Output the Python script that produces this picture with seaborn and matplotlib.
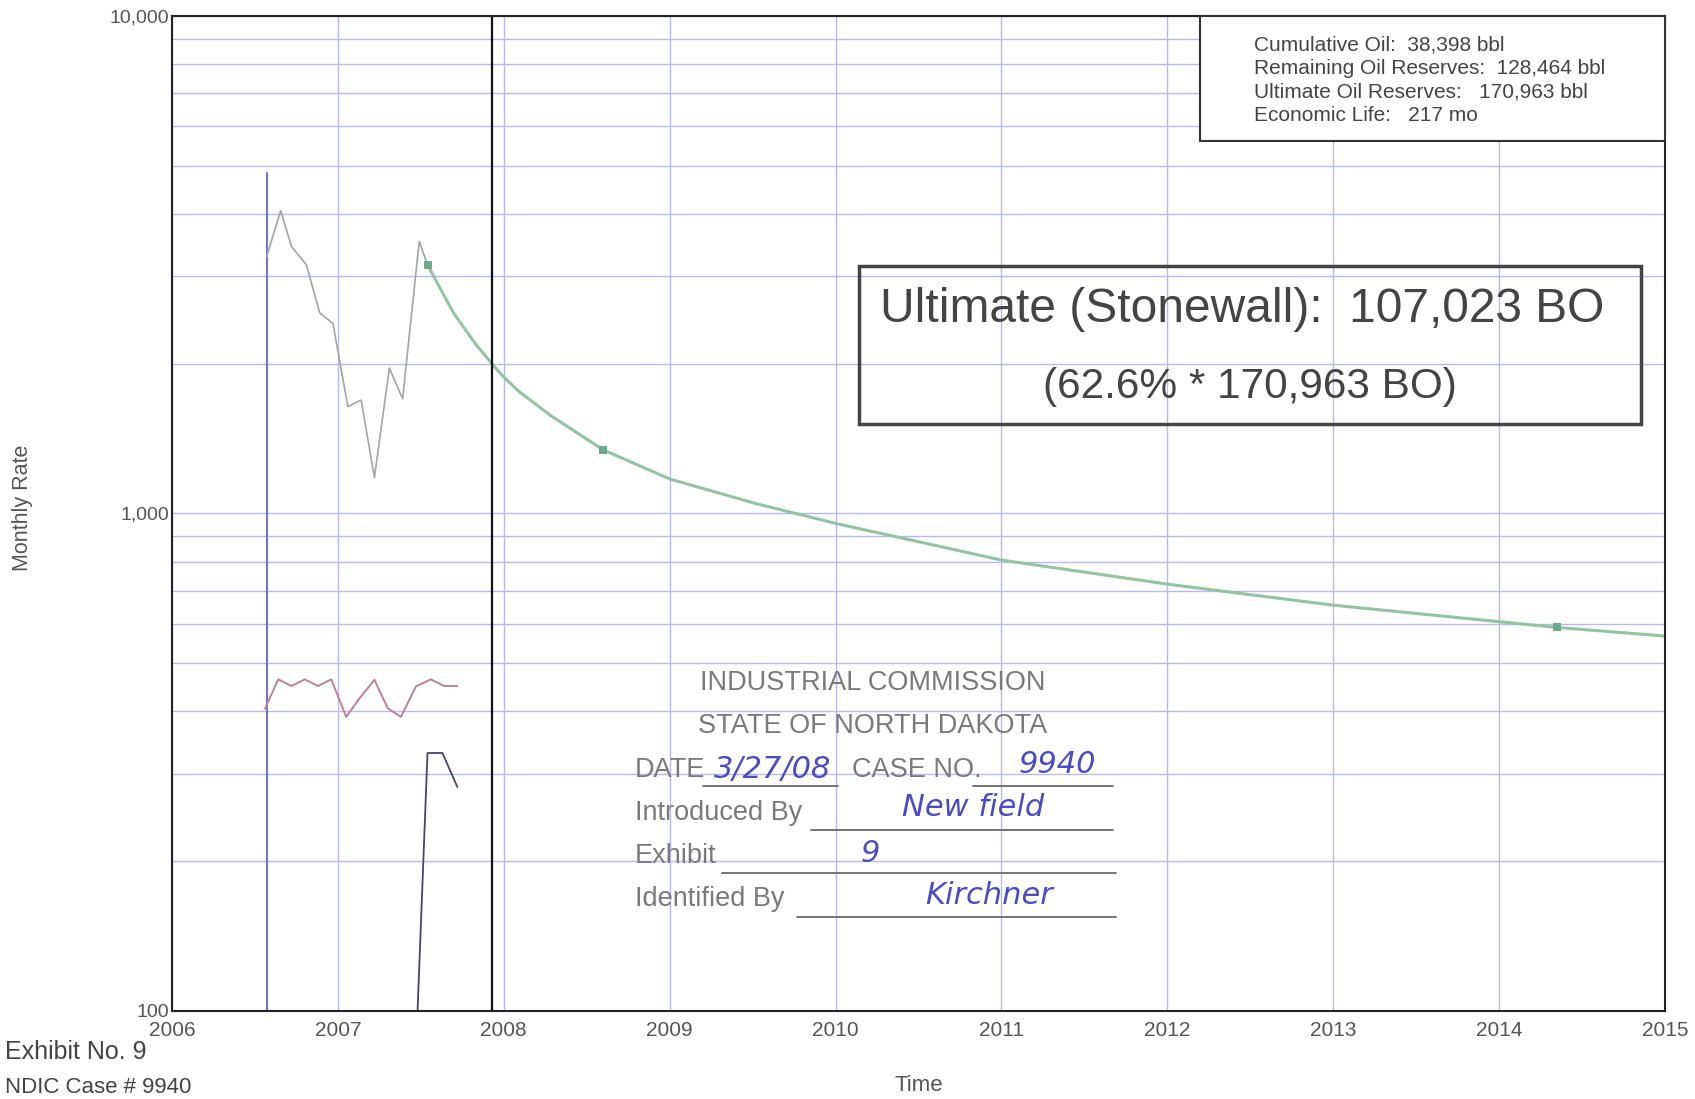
import matplotlib
matplotlib.use("Agg")
import matplotlib.pyplot as plt
import numpy as np
import pandas as pd
import seaborn as sns
from matplotlib.patches import Rectangle
from matplotlib.ticker import FixedLocator, LogLocator, NullFormatter

# values (decimal years, bbl / mcf per month)
oil_time = [2006.57, 2006.655, 2006.72, 2006.81, 2006.89, 2006.97, 2007.06,
            2007.14, 2007.22, 2007.31, 2007.39, 2007.49, 2007.54]
oil_rate = [3280, 4060, 3440, 3160, 2530, 2410, 1640, 1690, 1180, 1960, 1700, 3520, 3160]

gas_time = [2006.56, 2006.64, 2006.72, 2006.80, 2006.88, 2006.96, 2007.05, 2007.13,
            2007.22, 2007.30, 2007.38, 2007.47, 2007.56, 2007.64, 2007.72]
gas_rate = [405, 464, 450, 464, 450, 464, 390, 425, 463, 406, 390, 449, 464, 450, 450]

water_time = [2007.48, 2007.54, 2007.63, 2007.72]
water_rate = [100, 330, 330, 282]

first_prod_time = [2006.57, 2006.57]
first_prod_rate = [100, 4840]

forecast_time = [2007.54, 2007.635, 2007.70, 2007.83, 2007.947, 2008.0, 2008.09, 2008.286,
                 2008.6, 2009.0, 2009.524, 2010.0, 2011.0, 2012.0, 2013.0, 2014.0,
                 2014.35, 2015.0]
forecast_rate = [3160, 2760, 2520, 2190, 1966, 1880, 1760, 1570, 1342, 1173, 1046, 955,
                 806, 721, 654, 606, 590, 567]

marker_time = [2007.54, 2008.6, 2014.35]
marker_rate = [3160, 1342, 590]

as_of_date = 2007.93

years = list(range(2006, 2016))
ytick_values = [100, 1000, 10000]
ytick_labels = ["100", "1,000", "10,000"]

info_lines = ["Cumulative Oil:  38,398 bbl",
              "Remaining Oil Reserves:  128,464 bbl",
              "Ultimate Oil Reserves:   170,963 bbl",
              "Economic Life:   217 mo"]

sns.set_style("white")
plt.rcParams["font.family"] = ["Liberation Sans", "DejaVu Sans"]

grid_color = "#b9b9ec"
text_grey = "#444444"

fig = plt.figure(figsize=(16.95, 10.99), dpi=100)
ax = fig.add_axes([0.1015, 0.0801, 0.8808, 0.9054])
ax.set_yscale("log")
ax.set_xlim(2006, 2015)
ax.set_ylim(100, 10000)

# grid like the engineering paper
ax.yaxis.set_major_locator(FixedLocator(ytick_values))
ax.yaxis.set_minor_locator(LogLocator(base=10, subs=np.arange(2, 10)))
ax.yaxis.set_minor_formatter(NullFormatter())
ax.set_yticklabels(ytick_labels)
ax.set_xticks(years)
ax.set_xticklabels([str(y) for y in years])
ax.grid(which="both", axis="y", color=grid_color, lw=1.0)
ax.grid(which="major", axis="x", color=grid_color, lw=1.0)
ax.set_axisbelow(True)
ax.tick_params(axis="y", which="both", length=0, pad=2, labelsize=14, labelcolor="#555555")
ax.tick_params(axis="x", length=0, pad=7, labelsize=15, labelcolor="#555555")
for sp in ax.spines.values():
    sp.set_visible(True)
    sp.set_color("#222222")
    sp.set_linewidth(1.5)

ax.set_xlabel("")
ax.set_ylabel("")

# production history
sns.lineplot(x=first_prod_time, y=first_prod_rate, ax=ax, color="#7474cc", lw=1.5,
             estimator=None, sort=False)
sns.lineplot(x=oil_time, y=oil_rate, ax=ax, color="#a4a4a4", lw=1.2,
             estimator=None, sort=False)
sns.lineplot(x=gas_time, y=gas_rate, ax=ax, color="#bb8296", lw=1.4,
             estimator=None, sort=False)
sns.lineplot(x=water_time, y=water_rate, ax=ax, color="#464668", lw=1.3,
             estimator=None, sort=False)

# forecast
sns.lineplot(x=forecast_time, y=forecast_rate, ax=ax, color="#94c3a4", lw=2.2,
             estimator=None, sort=False)
sns.scatterplot(x=marker_time, y=marker_rate, ax=ax, marker="s", s=30,
                color="#6fa88c", linewidth=0, zorder=4)

ax.axvline(as_of_date, color="#111111", lw=1.6)

# summary box top right
ax.add_patch(Rectangle((0.6885, 0.874), 0.3115, 0.126, transform=ax.transAxes,
                       facecolor="white", edgecolor="#333333", lw=1.5, zorder=5,
                       clip_on=False))
for i, line in enumerate(info_lines):
    ax.text(0.7247, 0.9709 - i * 0.0238, line, transform=ax.transAxes, fontsize=15,
            color=text_grey, va="center", ha="left", zorder=6)

# ultimate box
ax.add_patch(Rectangle((0.460, 0.590), 0.524, 0.159, transform=ax.transAxes,
                       fill=False, edgecolor="#444444", lw=2.5, zorder=5))
ax.text(0.717, 0.7045, "Ultimate (Stonewall):  107,023 BO", transform=ax.transAxes,
        fontsize=34.5, color=text_grey, ha="center", va="center", zorder=6)
ax.text(0.722, 0.627, "(62.6% * 170,963 BO)", transform=ax.transAxes,
        fontsize=30.5, color=text_grey, ha="center", va="center", zorder=6)

# exhibit stamp
stamp_font = dict(family=["Liberation Sans", "DejaVu Sans"], fontsize=19.5, color="#7a7a7a")
ax.text(0.4695, 0.3296, "INDUSTRIAL COMMISSION", transform=ax.transAxes,
        ha="center", va="center", **stamp_font)
ax.text(0.4695, 0.2864, "STATE OF NORTH DAKOTA", transform=ax.transAxes,
        ha="center", va="center", **stamp_font)
ax.text(0.310, 0.2422, "DATE", transform=ax.transAxes, ha="left", va="center", **stamp_font)
ax.text(0.4555, 0.2422, "CASE NO.", transform=ax.transAxes, ha="left", va="center", **stamp_font)
ax.text(0.310, 0.1990, "Introduced By", transform=ax.transAxes, ha="left", va="center", **stamp_font)
ax.text(0.310, 0.1558, "Exhibit", transform=ax.transAxes, ha="left", va="center", **stamp_font)
ax.text(0.310, 0.1126, "Identified By", transform=ax.transAxes, ha="left", va="center", **stamp_font)

def px_x(x):
    return (x - 172) / 1493.0

def px_y(y):
    return 1 - (y - 16) / 995.0

underlines = [(703, 838, 786), (973, 1113, 786), (811, 1113, 830),
              (722, 1116, 873), (797, 1116, 917)]
for x0, x1, y in underlines:
    ax.plot([px_x(x0), px_x(x1)], [px_y(y), px_y(y)], transform=ax.transAxes,
            color="#6a6a6a", lw=1.3)

hand = dict(fontsize=22, color="#4b4bc4", style="italic", family=["DejaVu Sans"])
ax.text(px_x(773), px_y(770), "3/27/08", transform=ax.transAxes, ha="center", va="center", **hand)
ax.text(px_x(1057), px_y(765), "9940", transform=ax.transAxes, ha="center", va="center", **hand)
ax.text(px_x(973), px_y(808), "New field", transform=ax.transAxes, ha="center", va="center", **hand)
ax.text(px_x(870), px_y(854), "9", transform=ax.transAxes, ha="center", va="center", **hand)
ax.text(px_x(989), px_y(896), "Kirchner", transform=ax.transAxes, ha="center", va="center", **hand)

# outer labels
fig.text(0.013, 0.538, "Monthly Rate", rotation=90, ha="center", va="center",
         fontsize=15.5, color="#555555")
fig.text(0.542, 0.012, "Time", ha="center", va="center", fontsize=16, color="#555555")
fig.text(0.003, 0.043, "Exhibit No. 9", ha="left", va="center", fontsize=18, color=text_grey)
fig.text(0.003, 0.001, "NDIC Case # 9940", ha="left", va="bottom", fontsize=16, color=text_grey)

fig.savefig("out.png", dpi=100)
